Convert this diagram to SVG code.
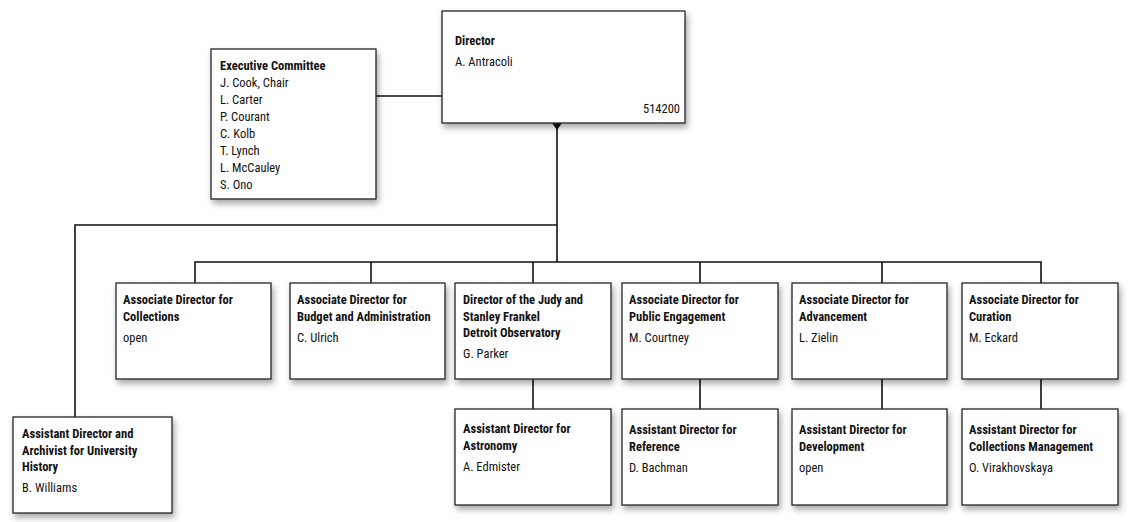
<svg xmlns="http://www.w3.org/2000/svg" width="1136" height="522" viewBox="0 0 1136 522">
<defs>
<filter id="sh" x="-10%" y="-10%" width="130%" height="140%"><feDropShadow dx="2" dy="4" stdDeviation="3" flood-color="#000" flood-opacity="0.35"/></filter>
<style>
.b{fill:#fff;stroke:#222;stroke-width:1.3;filter:url(#sh)}
text{font-family:"Liberation Sans Narrow","Roboto Condensed","Liberation Sans",sans-serif;font-size:12.5px;fill:#111}
.t{font-weight:bold}
.c{stroke:#111;stroke-width:1.6;fill:none}
</style>
</defs>
<g id="connectors">
<path class="c" d="M376 96H442M557 123V262M557 225H75V417M195 283V262H1041V283M371 262V283M533 262V283M700 262V283M882 262V283M533 379V409M700 379V409M882 379V409M1041 379V409"/>
<path d="M552 123H562L557 130Z" fill="#111"/>
</g>
<g id="director"><rect class="b" x="442" y="11" width="243" height="112"/><text class="t" x="455" y="45">Director</text><text x="455" y="66">A. Antracoli</text><text x="680" y="113" text-anchor="end">514200</text></g>
<g id="exec"><rect class="b" x="211" y="49" width="165" height="150"/><text x="220" y="70"><tspan class="t">Executive Committee</tspan><tspan x="220" dy="17">J. Cook, Chair</tspan><tspan x="220" dy="17">L. Carter</tspan><tspan x="220" dy="17">P. Courant</tspan><tspan x="220" dy="17">C. Kolb</tspan><tspan x="220" dy="17">T. Lynch</tspan><tspan x="220" dy="17">L. McCauley</tspan><tspan x="220" dy="17">S. Ono</tspan></text></g>
<g id="archivist"><rect class="b" x="13" y="417" width="159" height="96"/><text class="t" x="22" y="438">Assistant Director and<tspan x="22" dy="16.5">Archivist for University</tspan><tspan x="22" dy="16.5">History</tspan></text><text x="22" y="492">B. Williams</text></g>
<g id="collections"><rect class="b" x="116" y="283" width="155" height="96"/><text class="t" x="123" y="304">Associate Director for<tspan x="123" dy="16.5">Collections</tspan></text><text x="123" y="342">open</text></g>
<g id="budget"><rect class="b" x="290" y="283" width="155" height="96"/><text class="t" x="297" y="304">Associate Director for<tspan x="297" dy="16.5">Budget and Administration</tspan></text><text x="297" y="342">C. Ulrich</text></g>
<g id="observatory"><rect class="b" x="455" y="283" width="156" height="96"/><text class="t" x="463" y="304">Director of the Judy and<tspan x="463" dy="16.5">Stanley Frankel</tspan><tspan x="463" dy="16.5">Detroit Observatory</tspan></text><text x="463" y="358">G. Parker</text></g>
<g id="engagement"><rect class="b" x="622" y="283" width="156" height="96"/><text class="t" x="629" y="304">Associate Director for<tspan x="629" dy="16.5">Public Engagement</tspan></text><text x="629" y="342">M. Courtney</text></g>
<g id="advancement"><rect class="b" x="792" y="283" width="155" height="96"/><text class="t" x="799" y="304">Associate Director for<tspan x="799" dy="16.5">Advancement</tspan></text><text x="799" y="342">L. Zielin</text></g>
<g id="curation"><rect class="b" x="962" y="283" width="156" height="96"/><text class="t" x="969" y="304">Associate Director for<tspan x="969" dy="16.5">Curation</tspan></text><text x="969" y="342">M. Eckard</text></g>
<g id="astronomy"><rect class="b" x="455" y="409" width="156" height="96"/><text class="t" x="463" y="433">Assistant Director for<tspan x="463" dy="16.5">Astronomy</tspan></text><text x="463" y="471">A. Edmister</text></g>
<g id="reference"><rect class="b" x="622" y="409" width="156" height="96"/><text class="t" x="629" y="434">Assistant Director for<tspan x="629" dy="16.5">Reference</tspan></text><text x="629" y="472">D. Bachman</text></g>
<g id="development"><rect class="b" x="792" y="409" width="155" height="96"/><text class="t" x="799" y="434">Assistant Director for<tspan x="799" dy="16.5">Development</tspan></text><text x="799" y="472">open</text></g>
<g id="collmgmt"><rect class="b" x="962" y="409" width="156" height="96"/><text class="t" x="969" y="434">Assistant Director for<tspan x="969" dy="16.5">Collections Management</tspan></text><text x="969" y="472">O. Virakhovskaya</text></g>
</svg>
